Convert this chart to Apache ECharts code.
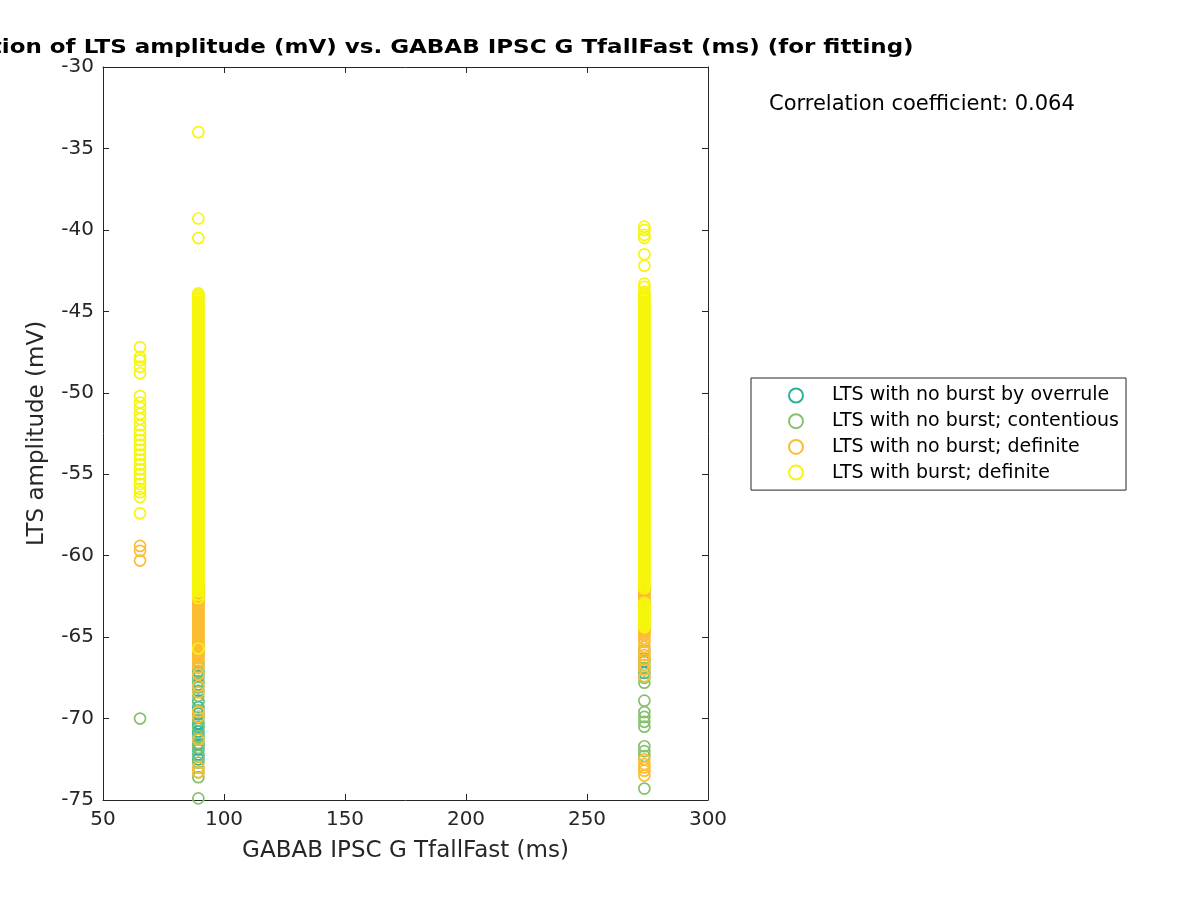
<!DOCTYPE html>
<html>
<head>
<meta charset="utf-8">
<script src="https://cdn.jsdelivr.net/npm/echarts@6/dist/echarts.min.js"></script>
<style>
  html, body { margin: 0; padding: 0; background: #fff; }
  #chart { width: 1200px; height: 900px; }
</style>
</head>
<body>
<div id="chart"></div>
<script>
// GABAB IPSC G TfallFast values (ms) at which the points sit
const tfallLeft = 65.3;
const tfallMid = 89.4;
const tfallRight = 273.7;

// LTS amplitude (mV), one array per category and column
const overruleMid = [-66.6, -67.1, -67.4, -67.9, -68.3, -68.9, -69.3, -69.7, -69.9, -70.3, -70.5, -70.8, -71.0, -71.3, -71.6, -71.9, -72.2, -72.5];
const overruleRight = [-66.5, -67.2];

const contentiousLeft = [-70.0];
const contentiousMid = [-66.0, -66.8, -67.2, -67.7, -68.1, -68.6, -69.0, -69.5, -70.1, -70.6, -71.1, -71.5, -71.8, -72.3, -72.7, -73.0, -73.3, -73.6, -74.9];
const contentiousRight = [-65.8, -66.3, -66.9, -67.5, -67.8, -68.9, -69.6, -69.9, -70.2, -70.5, -71.7, -72.0, -72.3, -74.3];

const noBurstLeft = [-59.4, -59.7, -60.3];
const noBurstMid = [
  -61.8, -61.9, -62.0, -62.1, -62.2, -62.3, -62.4, -62.5, -62.6, -62.7, -62.8, -62.9,
  -63.0, -63.1, -63.2, -63.3, -63.4, -63.5, -63.6, -63.7, -63.8, -63.9,
  -64.0, -64.1, -64.2, -64.3, -64.4, -64.5, -64.6, -64.7, -64.8, -64.9,
  -65.0, -65.1, -65.2, -65.3, -65.4, -65.5, -65.6, -65.7, -65.8, -65.9,
  -66.0, -66.1, -66.2, -66.3, -66.45, -66.6, -66.9, -67.3, -68.0, -68.4, -69.6, -69.9, -71.3, -73.0, -73.3];
const noBurstRight = [
  -61.9, -62.0, -62.1, -62.2, -62.3, -62.4, -62.5, -62.6, -62.7, -62.8, -62.9,
  -63.2, -63.6, -64.0, -64.4, -64.5, -64.6, -64.7, -64.8, -64.9, -65.1, -65.3, -65.6, -65.9,
  -66.1, -66.4, -66.7, -67.0, -67.4, -72.5, -72.8, -73.0, -73.2, -73.5];

const burstLeft = [-47.2, -47.8, -48.0, -48.4, -48.8, -50.2, -50.6, -50.9, -51.3, -51.6, -52.0, -52.3, -52.6, -52.9, -53.2, -53.5, -53.8, -54.1, -54.4, -54.7, -55.0, -55.3, -55.6, -55.9, -56.1, -56.4, -57.4];
const burstMid = [-34.0, -39.3, -40.5,
  -43.9, -44.0, -44.1, -44.2, -44.3, -44.4, -44.5, -44.6, -44.7, -44.8, -44.9,
  -45.0, -45.1, -45.2, -45.3, -45.4, -45.5, -45.6, -45.7, -45.8, -45.9,
  -46.0, -46.1, -46.2, -46.3, -46.4, -46.5, -46.6, -46.7, -46.8, -46.9,
  -47.0, -47.1, -47.2, -47.3, -47.4, -47.5, -47.6, -47.7, -47.8, -47.9,
  -48.0, -48.1, -48.2, -48.3, -48.4, -48.5, -48.6, -48.7, -48.8, -48.9,
  -49.0, -49.1, -49.2, -49.3, -49.4, -49.5, -49.6, -49.7, -49.8, -49.9,
  -50.0, -50.1, -50.2, -50.3, -50.4, -50.5, -50.6, -50.7, -50.8, -50.9,
  -51.0, -51.1, -51.2, -51.3, -51.4, -51.5, -51.6, -51.7, -51.8, -51.9,
  -52.0, -52.1, -52.2, -52.3, -52.4, -52.5, -52.6, -52.7, -52.8, -52.9,
  -53.0, -53.1, -53.2, -53.3, -53.4, -53.5, -53.6, -53.7, -53.8, -53.9,
  -54.0, -54.1, -54.2, -54.3, -54.4, -54.5, -54.6, -54.7, -54.8, -54.9,
  -55.0, -55.1, -55.2, -55.3, -55.4, -55.5, -55.6, -55.7, -55.8, -55.9,
  -56.0, -56.1, -56.2, -56.3, -56.4, -56.5, -56.6, -56.7, -56.8, -56.9,
  -57.0, -57.1, -57.2, -57.3, -57.4, -57.5, -57.6, -57.7, -57.8, -57.9,
  -58.0, -58.1, -58.2, -58.3, -58.4, -58.5, -58.6, -58.7, -58.8, -58.9,
  -59.0, -59.1, -59.2, -59.3, -59.4, -59.5, -59.6, -59.7, -59.8, -59.9,
  -60.0, -60.1, -60.2, -60.3, -60.4, -60.5, -60.6, -60.7, -60.8, -60.9,
  -61.0, -61.1, -61.2, -61.3, -61.4, -61.5, -61.6, -61.7, -61.8, -61.9,
  -62.0, -62.1, -62.2, -62.4, -62.6, -65.7];
const burstRight = [-39.8, -40.0, -40.3, -40.5, -41.5, -42.2, -43.3, -43.5,
  -43.8, -43.9, -44.0, -44.1, -44.2, -44.3, -44.4, -44.5, -44.6, -44.7, -44.8, -44.9,
  -45.0, -45.1, -45.2, -45.3, -45.4, -45.5, -45.6, -45.7, -45.8, -45.9,
  -46.0, -46.1, -46.2, -46.3, -46.4, -46.5, -46.6, -46.7, -46.8, -46.9,
  -47.0, -47.1, -47.2, -47.3, -47.4, -47.5, -47.6, -47.7, -47.8, -47.9,
  -48.0, -48.1, -48.2, -48.3, -48.4, -48.5, -48.6, -48.7, -48.8, -48.9,
  -49.0, -49.1, -49.2, -49.3, -49.4, -49.5, -49.6, -49.7, -49.8, -49.9,
  -50.0, -50.1, -50.2, -50.3, -50.4, -50.5, -50.6, -50.7, -50.8, -50.9,
  -51.0, -51.1, -51.2, -51.3, -51.4, -51.5, -51.6, -51.7, -51.8, -51.9,
  -52.0, -52.1, -52.2, -52.3, -52.4, -52.5, -52.6, -52.7, -52.8, -52.9,
  -53.0, -53.1, -53.2, -53.3, -53.4, -53.5, -53.6, -53.7, -53.8, -53.9,
  -54.0, -54.1, -54.2, -54.3, -54.4, -54.5, -54.6, -54.7, -54.8, -54.9,
  -55.0, -55.1, -55.2, -55.3, -55.4, -55.5, -55.6, -55.7, -55.8, -55.9,
  -56.0, -56.1, -56.2, -56.3, -56.4, -56.5, -56.6, -56.7, -56.8, -56.9,
  -57.0, -57.1, -57.2, -57.3, -57.4, -57.5, -57.6, -57.7, -57.8, -57.9,
  -58.0, -58.1, -58.2, -58.3, -58.4, -58.5, -58.6, -58.7, -58.8, -58.9,
  -59.0, -59.1, -59.2, -59.3, -59.4, -59.5, -59.6, -59.7, -59.8, -59.9,
  -60.0, -60.1, -60.2, -60.3, -60.4, -60.5, -60.6, -60.7, -60.8, -60.9,
  -61.0, -61.1, -61.2, -61.3, -61.4, -61.5, -61.6, -61.7, -61.8, -61.9, -62.0,
  -62.9, -63.0, -63.1, -63.2, -63.3, -63.4, -63.5, -63.6, -63.7, -63.8, -63.9,
  -64.0, -64.1, -64.2, -64.3, -64.4];

const seriesNames = ["LTS with no burst by overrule", "LTS with no burst; contentious", "LTS with no burst; definite", "LTS with burst; definite"];
const seriesColors = ["#2ab39c", "#86c06c", "#fcbd33", "#f6f60c"];
const xTicks = [50, 100, 150, 200, 250, 300];
const yTicks = [-75, -70, -65, -60, -55, -50, -45, -40, -35, -30];
const corrCoef = "0.064";

function points(groups) {
  const out = [];
  groups.forEach(([x, ys]) => ys.forEach((y) => out.push([x, y])));
  return out;
}

const seriesData = [
  points([[tfallMid, overruleMid], [tfallRight, overruleRight]]),
  points([[tfallLeft, contentiousLeft], [tfallMid, contentiousMid], [tfallRight, contentiousRight]]),
  points([[tfallLeft, noBurstLeft], [tfallMid, noBurstMid], [tfallRight, noBurstRight]]),
  points([[tfallLeft, burstLeft], [tfallMid, burstMid], [tfallRight, burstRight]])
];

const font = "DejaVu Sans";
const ink = "#262626";

const chart = echarts.init(document.getElementById("chart"));

const axisCommon = {
  axisLine: { show: true, onZero: false, lineStyle: { color: ink, width: 1 } },
  axisTick: { show: true, inside: true, length: 6, lineStyle: { color: ink } },
  splitLine: { show: false }
};

chart.setOption({
  animation: false,
  backgroundColor: "#fff",
  grid: { left: 103, right: 492, top: 67, bottom: 100 },
  xAxis: [
    {
      ...axisCommon,
      type: "value",
      min: xTicks[0],
      max: xTicks[xTicks.length - 1],
      interval: 50,
      name: "GABAB IPSC G TfallFast (ms)",
      nameLocation: "middle",
      nameGap: 40,
      nameTextStyle: { fontFamily: font, fontSize: 23, color: ink },
      axisLabel: { fontFamily: font, fontSize: 20, color: ink, margin: 10 }
    },
    {
      ...axisCommon,
      type: "value",
      position: "top",
      min: xTicks[0],
      max: xTicks[xTicks.length - 1],
      interval: 50,
      axisLabel: { show: false }
    }
  ],
  yAxis: [
    {
      ...axisCommon,
      type: "value",
      min: yTicks[0],
      max: yTicks[yTicks.length - 1],
      interval: 5,
      name: "LTS amplitude (mV)",
      nameLocation: "middle",
      nameGap: 54,
      nameTextStyle: { fontFamily: font, fontSize: 23, color: ink },
      axisLabel: { fontFamily: font, fontSize: 20, color: ink, margin: 9 }
    },
    {
      ...axisCommon,
      type: "value",
      position: "right",
      min: yTicks[0],
      max: yTicks[yTicks.length - 1],
      interval: 5,
      axisLabel: { show: false }
    }
  ],
  legend: {
    orient: "vertical",
    left: 751,
    top: 378,
    padding: [8, 7, 8, 37],
    itemWidth: 14,
    itemHeight: 14,
    itemGap: 6.7,
    borderColor: ink,
    borderWidth: 1,
    backgroundColor: "#fff",
    textStyle: { fontFamily: font, fontSize: 19, lineHeight: 19, color: "#000", padding: [0, 0, 0, 24] },
    data: seriesNames
  },
  graphic: [
    {
      type: "text",
      x: 405,
      y: 48,
      scaleX: 1.15,
      style: {
        text: "Correlation of LTS amplitude (mV) vs. GABAB IPSC G TfallFast (ms) (for fitting)",
        fontFamily: font,
        fontSize: 20,
        fontWeight: "bold",
        fill: "#000",
        align: "center",
        verticalAlign: "middle"
      }
    },
    {
      type: "text",
      x: 769,
      y: 105,
      style: {
        text: "Correlation coefficient: " + corrCoef,
        fontFamily: font,
        fontSize: 21,
        fill: "#000",
        align: "left",
        verticalAlign: "middle"
      }
    }
  ],
  series: seriesNames.map((name, i) => ({
    name,
    type: "scatter",
    symbol: "circle",
    symbolSize: 11,
    data: seriesData[i],
    itemStyle: { color: "rgba(0,0,0,0)", borderColor: seriesColors[i], borderWidth: 1.7, opacity: 1 },
    emphasis: { disabled: true }
  }))
});
</script>
</body>
</html>
